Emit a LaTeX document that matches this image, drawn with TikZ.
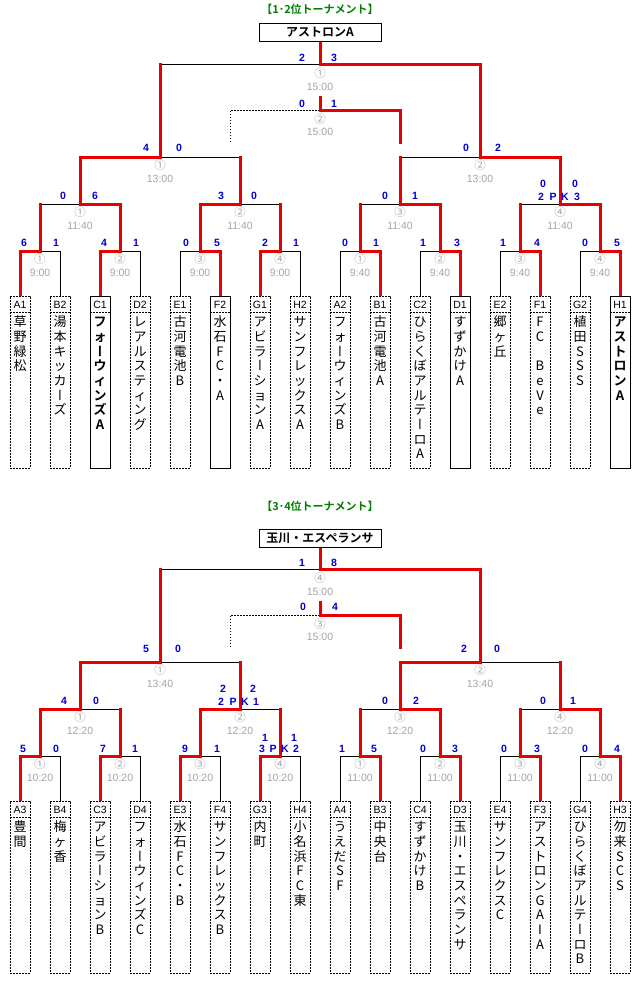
\documentclass[tikz,border=0pt]{standalone}
\usepackage{fontspec}
\setmainfont{Liberation Sans}
\newfontfamily\cjk{Noto Sans CJK JP}[BoldFont={Noto Sans CJK JP Bold}]
\newfontfamily\cjkv{Noto Sans CJK JP}[BoldFont={Noto Sans CJK JP Bold},RawFeature=+vert]
\newcommand\vb{{\cjkv ー}}
\definecolor{myred}{RGB}{230,0,0}
\definecolor{scblue}{RGB}{0,0,210}
\definecolor{lgray}{RGB}{165,165,165}
\definecolor{tgreen}{RGB}{0,128,0}
\pgfdeclarelayer{bg}\pgfdeclarelayer{lo}\pgfdeclarelayer{hi}
\pgfsetlayers{bg,lo,hi,main}
\tikzset{
 win/.style={draw=myred, line width=3pt, line cap=rect, line join=miter},
 lose/.style={draw=black, line width=1pt},
 dotline/.style={draw=black, line width=1pt, dash pattern=on 1.5pt off 1.5pt},
 boxdash/.style={draw=black, line width=1pt, dash pattern=on 2pt off 1pt, fill=white, minimum width=20pt, minimum height=172pt, inner sep=0pt, outer sep=0pt},
 boxsolid/.style={boxdash, solid},
 divline/.style={draw=black, line width=1pt, dash pattern=on 2pt off 1pt},
 lab/.style={inner sep=0pt, font=\fontsize{10.5}{10.5}\selectfont},
 namech/.style={anchor=base, inner sep=0pt, font=\cjk\fontsize{13}{13}\selectfont},
 namebold/.style={namech, font=\cjk\bfseries\fontsize{13}{13}\selectfont},
 score/.style={inner sep=0pt, text=scblue, font=\bfseries\fontsize{10.5}{10.5}\selectfont},
 circ/.style={inner sep=0pt, text=lgray, font=\cjk\fontsize{11.5}{11.5}\selectfont},
 tm/.style={inner sep=0pt, text=lgray, font=\fontsize{10.5}{10.5}\selectfont},
 champ/.style={draw=black, line width=1pt, fill=white, minimum width=122pt, minimum height=18pt, inner sep=0pt, outer sep=0pt, font=\cjk\bfseries\fontsize{12}{12}\selectfont},
 ttl/.style={inner sep=0pt, text=tgreen, font=\cjk\bfseries\fontsize{11}{11}\selectfont},
}
% team box: #1 name, #2 x, #3 offset, #4 code, #5 box style, #6 char style, #7 chars
\newcommand\team[7]{%
 \node[#5] (#1) at (#2, 382+#3) {};
 \draw[divline] (#2-10, 312+#3) -- (#2+10, 312+#3);
 \node[lab] (#1l) at (#2, 304.5+#3) {#4};
 \foreach \ch [count=\i] in {#7} {\node[#6] (#1c\i) at (#2, 311.9+#3+14.7*\i) {\ch};}%
}
% bracket lines: #1 prefix, #2 offset, #3 R1 k/w/l/p, #4 QF j/w/l/p, #5 SF j/w/l, #6 final loser, #7 final winner
\newcommand\brlines[7]{%
 \foreach \k in {1,...,8} {\coordinate (#1r\k) at ({80*\k-40}, 251+#2);}
 \foreach \k in {1,...,4} {\coordinate (#1q\k) at ({160*\k-80}, 204+#2);}
 \coordinate (#1s1) at (160, 157+#2);
 \coordinate (#1s2) at (480, 157+#2);
 \coordinate (#1f) at (320, 64+#2);
 \coordinate (#1x) at (320, 110+#2);
 \coordinate (#1xl) at (230, 142+#2);
 \coordinate (#1xr) at (400, 142+#2);
 \coordinate (#1xu) at (320, 97+#2);
 \begin{pgfonlayer}{lo}
  \foreach \k/\w/\l/\p in {#3} {\draw[lose] (#1\l.north) |- (#1r\k);}
  \foreach \j/\w/\l/\p in {#4} {\draw[lose] (#1r\l |- #1q\j) -- (#1q\j);}
  \foreach \j/\w/\l in {#5} {\draw[lose] (#1q\l |- #1s\j) -- (#1s\j);}
  \draw[lose] (#1s#6 |- #1f) -- (#1f);
  \draw[dotline] (#1xl) |- (#1x);
 \end{pgfonlayer}
 \begin{pgfonlayer}{hi}
  \foreach \k/\w/\l/\p in {#3} {\draw[win] (#1\w.north) |- (#1r\k) -- (#1r\k |- #1q\p);}
  \foreach \j/\w/\l/\p in {#4} {\draw[win] (#1r\w |- #1q\j) -- (#1q\j) -- (#1q\j |- #1s\p);}
  \foreach \j/\w/\l in {#5} {\draw[win] (#1q\w |- #1s\j) -- (#1s\j) -- (#1s\j |- #1f);}
  \draw[win] (#1s#7 |- #1f) -- (#1f) -- (#1champ.south);
  \draw[win] (#1xr) |- (#1x) -- (#1xu);
 \end{pgfonlayer}
}
% gray labels: #1 prefix, #2 offset, #3 final no, #4 third no, #5 SF time, #6 QF time, #7 R1 left time, #8 R1 right time
\newcommand\glabels[8]{%
 \node[circ] (#1cf) at (320,73+#2) {#3};
 \node[tm] (#1tf) at (320,87+#2) {15:00};
 \node[circ] (#1cx) at (320,119+#2) {#4};
 \node[tm] (#1tx) at (320,132+#2) {15:00};
 \foreach \k/\c in {1/①,2/②} {\node[circ] (#1cs\k) at ({320*\k-160},165+#2) {\c}; \node[tm] (#1ts\k) at ({320*\k-160},179+#2) {#5};}
 \foreach \k/\c in {1/①,2/②,3/③,4/④} {\node[circ] (#1cq\k) at ({160*\k-80},212+#2) {\c}; \node[tm] (#1tq\k) at ({160*\k-80},226+#2) {#6};}
 \foreach \k/\c in {1/①,2/②,3/③,4/④} {\node[circ] (#1cr\k) at ({80*\k-40},259+#2) {\c}; \node[tm] (#1tr\k) at ({80*\k-40},273+#2) {#7};
   \node[circ] (#1cR\k) at ({80*\k+280},259+#2) {\c}; \node[tm] (#1tR\k) at ({80*\k+280},273+#2) {#8};}
}
\begin{document}
\begin{tikzpicture}[x=1pt,y=-1pt]
\begin{pgfonlayer}{bg}
\fill[white] (0,0) rectangle (640,983);
\end{pgfonlayer}
\useasboundingbox (0,0) rectangle (640,983);

% ===== 1-2 tournament =====
\node[ttl] (Ttitle) at (320,9) {【1･2位トーナメント】};
\node[champ] (Tchamp) at (320,32.5) {アストロンA};
\team{T1}{20}{0}{A1}{boxdash}{namech}{草,野,緑,松}
\team{T2}{60}{0}{B2}{boxdash}{namech}{湯,本,キ,ッ,カ,\vb,ズ}
\team{T3}{100}{0}{C1}{boxsolid}{namebold}{フ,ォ,\vb,ウ,ィ,ン,ズ,A}
\team{T4}{140}{0}{D2}{boxdash}{namech}{レ,ア,ル,ス,テ,ィ,ン,グ}
\team{T5}{180}{0}{E1}{boxdash}{namech}{古,河,電,池,B}
\team{T6}{220}{0}{F2}{boxsolid}{namech}{水,石,F,C,・,A}
\team{T7}{260}{0}{G1}{boxdash}{namech}{ア,ビ,ラ,\vb,シ,ョ,ン,A}
\team{T8}{300}{0}{H2}{boxdash}{namech}{サ,ン,フ,レ,ッ,ク,ス,A}
\team{T9}{340}{0}{A2}{boxdash}{namech}{フ,ォ,\vb,ウ,ィ,ン,ズ,B}
\team{T10}{380}{0}{B1}{boxdash}{namech}{古,河,電,池,A}
\team{T11}{420}{0}{C2}{boxdash}{namech}{ひ,ら,く,ぼ,ア,ル,テ,\vb,ロ,A}
\team{T12}{460}{0}{D1}{boxsolid}{namech}{す,ず,か,け,A}
\team{T13}{500}{0}{E2}{boxdash}{namech}{郷,ヶ,丘}
\team{T14}{540}{0}{F1}{boxdash}{namech}{F,C,{},B,e,V,e}
\team{T15}{580}{0}{G2}{boxdash}{namech}{植,田,S,S,S}
\team{T16}{620}{0}{H1}{boxsolid}{namebold}{ア,ス,ト,ロ,ン,A}
\brlines{T}{0}{1/1/2/1,2/3/4/1,3/6/5/2,4/7/8/2,5/10/9/3,6/12/11/3,7/14/13/4,8/16/15/4}{1/2/1/1,2/3/4/1,3/6/5/2,4/8/7/2}{1/1/2,2/4/3}{1}{2}
\glabels{T}{0}{①}{②}{13:00}{11:40}{9:00}{9:40}
\foreach \x/\y/\t [count=\n] in {302/58/2,334/58/3,302/104/0,334/104/1,
 146/148/4,179/148/0,466/148/0,498/148/2,
 63/196/0,95/196/6,221/196/3,254/196/0,385/196/0,415/196/1,
 543/184/0,575/184/0,541/197/2,553/197/P,565/197/K,577/197/3,
 24/243/6,56/243/1,104/243/4,136/243/1,186/243/0,217/243/5,265/243/2,296/243/1,
 345/243/0,376/243/1,423/243/1,457/243/3,503/243/1,537/243/4,585/243/0,617/243/5}
 {\node[score] (Tsc\n) at (\x,\y) {\t};}

% ===== 3-4 tournament =====
\node[ttl] (Utitle) at (320,506) {【3･4位トーナメント】};
\node[champ] (Uchamp) at (320,538.5) {玉川・エスペランサ};
\team{U1}{20}{505}{A3}{boxdash}{namech}{豊,間}
\team{U2}{60}{505}{B4}{boxdash}{namech}{梅,ヶ,香}
\team{U3}{100}{505}{C3}{boxdash}{namech}{ア,ビ,ラ,\vb,シ,ョ,ン,B}
\team{U4}{140}{505}{D4}{boxdash}{namech}{フ,ォ,\vb,ウ,ィ,ン,ズ,C}
\team{U5}{180}{505}{E3}{boxdash}{namech}{水,石,F,C,・,B}
\team{U6}{220}{505}{F4}{boxdash}{namech}{サ,ン,フ,レ,ッ,ク,ス,B}
\team{U7}{260}{505}{G3}{boxdash}{namech}{内,町}
\team{U8}{300}{505}{H4}{boxdash}{namech}{小,名,浜,F,C,東}
\team{U9}{340}{505}{A4}{boxdash}{namech}{う,え,だ,S,F}
\team{U10}{380}{505}{B3}{boxdash}{namech}{中,央,台}
\team{U11}{420}{505}{C4}{boxdash}{namech}{す,ず,か,け,B}
\team{U12}{460}{505}{D3}{boxdash}{namech}{玉,川,・,エ,ス,ペ,ラ,ン,サ}
\team{U13}{500}{505}{E4}{boxdash}{namech}{サ,ン,フ,レ,ク,ス,C}
\team{U14}{540}{505}{F3}{boxdash}{namech}{ア,ス,ト,ロ,ン,G,A,I,A}
\team{U15}{580}{505}{G4}{boxdash}{namech}{ひ,ら,く,ぼ,ア,ル,テ,\vb,ロ,B}
\team{U16}{620}{505}{H3}{boxdash}{namech}{勿,来,S,C,S}
\brlines{U}{505}{1/1/2/1,2/3/4/1,3/5/6/2,4/7/8/2,5/10/9/3,6/12/11/3,7/14/13/4,8/16/15/4}{1/1/2/1,2/3/4/1,3/6/5/2,4/8/7/2}{1/1/2,2/3/4}{1}{2}
\glabels{U}{505}{④}{③}{13:40}{12:20}{10:20}{11:00}
\foreach \x/\y/\t [count=\n] in {302/563/1,334/563/8,303/607/0,335/607/4,
 146/649/5,178/649/0,464/649/2,497/649/0,
 64/701/4,96/701/0,385/701/0,416/701/2,543/701/0,573/701/1,
 223/689/2,253/689/2,221/702/2,233/702/P,245/702/K,256/702/1,
 23/749/5,56/749/0,103/749/7,135/749/1,185/749/9,217/749/1,
 342/749/1,374/749/5,423/749/0,455/749/3,504/749/0,537/749/3,585/749/0,617/749/4,
 265/738/1,294/738/1,262/749/3,273/749/P,285/749/K,296/749/2}
 {\node[score] (Usc\n) at (\x,\y) {\t};}
\end{tikzpicture}
\end{document}
